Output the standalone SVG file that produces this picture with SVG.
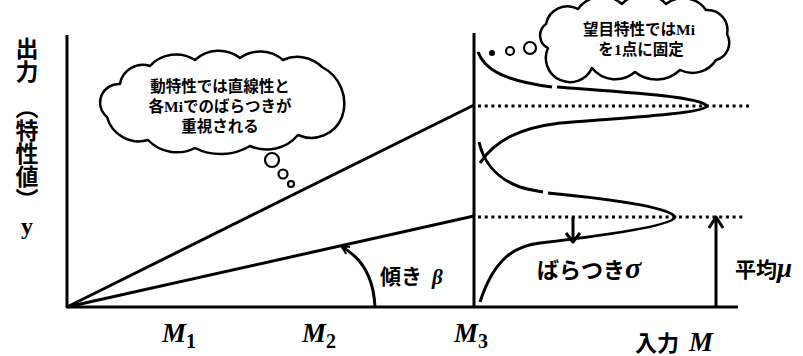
<svg xmlns="http://www.w3.org/2000/svg" width="803" height="356" viewBox="0 0 803 356">
<defs>
<style>
.ln{fill:none;stroke:#000;stroke-width:3;stroke-linecap:butt;stroke-linejoin:round}
.thin{fill:none;stroke:#000;stroke-width:2.2}
.dot{fill:none;stroke:#000;stroke-width:3;stroke-dasharray:3 3.7}
.jp{font-family:"Noto Sans CJK JP","Noto Sans",sans-serif;font-weight:bold;fill:#000}
.ser{font-family:"Liberation Serif",serif;font-weight:bold;fill:#000}
.it{font-style:italic}
.cloud{fill:#fff;stroke:#000;stroke-width:2.5;stroke-linejoin:round}
.vt{writing-mode:vertical-rl}
</style>
<marker id="ah" markerWidth="10" markerHeight="10" refX="8" refY="5" orient="auto" markerUnits="userSpaceOnUse">
<path d="M1,1 L8,5 L1,9" fill="none" stroke="#000" stroke-width="2"/>
</marker>
</defs>
<rect width="803" height="356" fill="#fff"/>
<g id="axes">
<path class="ln" d="M67,35 V307 H738"/>
<path class="ln" d="M474,33 V307"/>
</g>
<g id="connectors">
<path class="ln" d="M67,307 L474,105"/>
<path class="ln" d="M67,307 L474,216"/>
<path class="dot" d="M478,106 H750"/>
<path class="dot" d="M478,217 H745"/>
<path class="ln" d="M478,52 C484,68 500,80 552,87"/>
<path class="ln" d="M557,87 C640,93 700,97 707,106 C704,113 640,117 560,123 C520,128 495,140 480,163"/>
<path class="ln" d="M479,142 C483,160 495,178 520,187 C530,190 538,191 543,192"/>
<path class="ln" d="M548,193 C620,200 670,208 675,217 C673,226 600,236 540,243 C510,246 492,265 480,302"/>
<path class="ln" d="M573,217 V242 M566,233 L573,242 L580,233"/>
<path class="ln" d="M716,307 V218 M709,228 L716,217 L723,228"/>
<path class="ln" d="M375,307 Q373,264 342,247" marker-end="url(#ah)"/>
</g>
<g id="cloud1">
<path class="cloud" d="M107,117 A18.6,18.6 0 0 1 120,84 A23,23 0 0 1 150,66 A35,35 0 0 1 195,60 A35,35 0 0 1 240,58 A35,35 0 0 1 283,60 A35,35 0 0 1 322,67 A41,41 0 0 1 342,117 A33,33 0 0 1 298,135 A41,41 0 0 1 250,146 A57,57 0 0 1 195,148 A40,40 0 0 1 148,140 A33,33 0 0 1 107,117 Z"/>
<text class="jp" font-size="15.5" text-anchor="middle"><tspan x="220" y="92">動特性では直線性と</tspan><tspan x="220" y="112">各<tspan class="ser">Mi</tspan>でのばらつきが</tspan><tspan x="220" y="132">重視される</tspan></text>
<circle class="thin" cx="272" cy="160" r="7"/>
<circle class="thin" cx="283" cy="174" r="4.5"/>
<circle class="thin" cx="291" cy="184" r="3"/>
</g>
<g id="cloud2">
<path class="cloud" d="M548,48 A14,14 0 0 1 546,24 A22,22 0 0 1 578,9 A30,30 0 0 1 622,4 A30,30 0 0 1 666,4 A28,28 0 0 1 706,10 A20,20 0 0 1 727,34 A18,18 0 0 1 716,60 A28,28 0 0 1 680,70 A34,34 0 0 1 635,72 A30,30 0 0 1 592,68 A22,22 0 0 1 548,48 Z"/>
<text class="jp" font-size="15.5" text-anchor="middle"><tspan x="639" y="35">望目特性では<tspan class="ser">Mi</tspan></tspan><tspan x="641" y="55">を<tspan class="ser">1</tspan>点に固定</tspan></text>
<circle cx="492" cy="53" r="3" fill="#000"/>
<circle class="thin" cx="510" cy="51" r="4"/>
<circle class="thin" cx="530" cy="48" r="6"/>
</g>
<g id="ylabel">
<text class="jp vt" font-size="23" x="27" y="37">出力</text>
<text class="jp vt" font-size="23" x="27" y="96">（特性値）</text>
<text class="ser" font-size="24" text-anchor="middle" x="27" y="234">y</text>
</g>
<g id="labels">
<text class="jp" font-size="21" x="380" y="284">傾き<tspan class="ser it" dx="10">β</tspan></text>
<text class="jp" font-size="22" x="537" y="278">ばらつき<tspan class="ser it" font-size="30">σ</tspan></text>
<text class="jp" font-size="21" x="735" y="277">平均<tspan class="ser it" font-size="27">μ</tspan></text>
<text class="jp" font-size="22" x="635" y="351">入力<tspan class="ser it" font-size="27" dx="10">M</tspan></text>
<text class="ser it" font-size="27" x="162" y="342">M<tspan class="ser" font-style="normal" font-size="20" dy="6">1</tspan></text>
<text class="ser it" font-size="27" x="302" y="342">M<tspan class="ser" font-style="normal" font-size="20" dy="6">2</tspan></text>
<text class="ser it" font-size="27" x="454" y="342">M<tspan class="ser" font-style="normal" font-size="20" dy="6">3</tspan></text>
</g>
</svg>
